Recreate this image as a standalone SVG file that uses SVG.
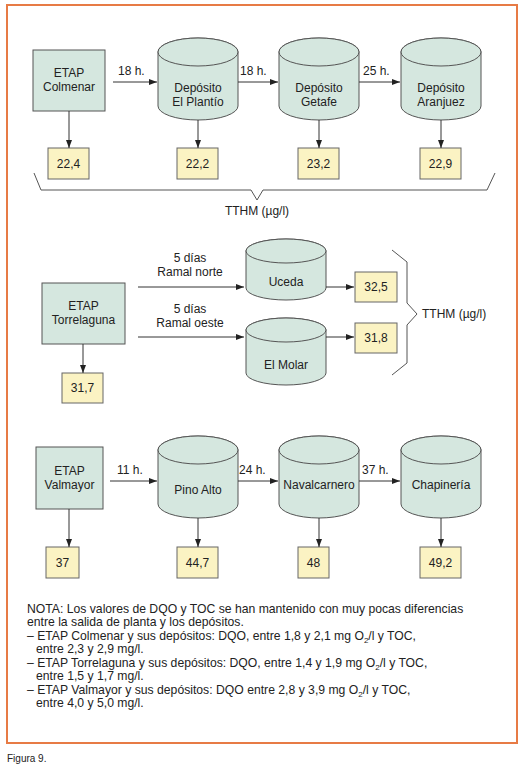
<svg xmlns="http://www.w3.org/2000/svg" width="532" height="768" viewBox="0 0 532 768">
<defs>
<style>
text{font-family:"Liberation Sans",Arial,sans-serif;fill:#222;}
.lbl{font-size:12px;text-anchor:middle;}
.val{font-size:12px;text-anchor:middle;}
.note{font-size:12.2px;}
.box{fill:#d5e7df;stroke:#555;stroke-width:1;}
.cyl{fill:#d5e7df;stroke:#555;stroke-width:1;}
.vbox{fill:#fbf3c3;stroke:#666;stroke-width:1;}
.conn{fill:none;stroke:#333;stroke-width:1;}
.brace{fill:none;stroke:#555;stroke-width:1;}
</style>
<marker id="ah" viewBox="0 0 8 6" refX="8" refY="3" markerWidth="8" markerHeight="6" markerUnits="userSpaceOnUse" orient="auto">
<path d="M0,0 L8,3 L0,6 Z" fill="#222"/>
</marker>
</defs>
<rect x="0" y="0" width="532" height="768" fill="#fff"/>
<rect x="7" y="5" width="510" height="738" fill="#fff" stroke="#e77b45" stroke-width="2"/>

<!-- Row 1 -->
<g id="etap-colmenar"><rect class="box" x="33" y="50" width="72" height="61"/><text class="lbl" x="69" y="77">ETAP</text><text class="lbl" x="69" y="91">Colmenar</text></g>
<g id="dep-plantio"><path class="cyl" d="M158,52 L158,106 A40,14 0 0 0 238,106 L238,52 A40,14 0 0 0 158,52 Z"/><ellipse class="cyl" cx="198" cy="52" rx="40" ry="14"/><text class="lbl" x="198" y="92">Depósito</text><text class="lbl" x="198" y="106">El Plantío</text></g>
<g id="dep-getafe"><path class="cyl" d="M279,52 L279,106 A40,14 0 0 0 359,106 L359,52 A40,14 0 0 0 279,52 Z"/><ellipse class="cyl" cx="319" cy="52" rx="40" ry="14"/><text class="lbl" x="319" y="92">Depósito</text><text class="lbl" x="319" y="106">Getafe</text></g>
<g id="dep-aranjuez"><path class="cyl" d="M401,52 L401,106 A40,14 0 0 0 481,106 L481,52 A40,14 0 0 0 401,52 Z"/><ellipse class="cyl" cx="441" cy="52" rx="40" ry="14"/><text class="lbl" x="441" y="92">Depósito</text><text class="lbl" x="441" y="106">Aranjuez</text></g>
<g id="v-224"><rect class="vbox" x="48" y="148" width="41" height="31"/><text class="val" x="68.5" y="168">22,4</text></g>
<g id="v-222"><rect class="vbox" x="177" y="148" width="41" height="31"/><text class="val" x="197.5" y="168">22,2</text></g>
<g id="v-232"><rect class="vbox" x="298" y="148" width="41" height="31"/><text class="val" x="318.5" y="168">23,2</text></g>
<g id="v-229"><rect class="vbox" x="420" y="148" width="41" height="31"/><text class="val" x="440.5" y="168">22,9</text></g>
<g id="tthm1"><path class="brace" d="M34,173 L41,190 L251,190 L257,200 L263,190 L487,190 L495,173"/><text class="lbl" x="257" y="215">TTHM (µg/l)</text></g>

<!-- Row 2 -->
<g id="etap-torrelaguna"><rect class="box" x="42" y="283" width="83" height="61"/><text class="lbl" x="83.5" y="310">ETAP</text><text class="lbl" x="83.5" y="324">Torrelaguna</text></g>
<g id="uceda"><path class="cyl" d="M246,251 L246,288 A40,12 0 0 0 326,288 L326,251 A40,12 0 0 0 246,251 Z"/><ellipse class="cyl" cx="286" cy="251" rx="40" ry="12"/><text class="lbl" x="286" y="286">Uceda</text></g>
<g id="el-molar"><path class="cyl" d="M246,330 L246,373 A40,12 0 0 0 326,373 L326,330 A40,12 0 0 0 246,330 Z"/><ellipse class="cyl" cx="286" cy="330" rx="40" ry="12"/><text class="lbl" x="286" y="369">El Molar</text></g>
<g id="v-325"><rect class="vbox" x="355" y="272" width="42" height="30"/><text class="val" x="376" y="291">32,5</text></g>
<g id="v-318"><rect class="vbox" x="355" y="323" width="42" height="30"/><text class="val" x="376" y="342">31,8</text></g>
<g id="v-317"><rect class="vbox" x="62" y="373" width="41" height="30"/><text class="val" x="82.5" y="392">31,7</text></g>
<g id="tthm2"><path class="brace" d="M392,250 L407,262 L407,303 L417,314 L407,325 L407,363 L392,375"/><text x="422" y="318" style="font-size:12px">TTHM (µg/l)</text></g>

<!-- Row 3 -->
<g id="etap-valmayor"><rect class="box" x="36" y="447" width="67" height="62"/><text class="lbl" x="69.5" y="475">ETAP</text><text class="lbl" x="69.5" y="489">Valmayor</text></g>
<g id="pino-alto"><path class="cyl" d="M158,450 L158,504 A40,14 0 0 0 238,504 L238,450 A40,14 0 0 0 158,450 Z"/><ellipse class="cyl" cx="198" cy="450" rx="40" ry="14"/><text class="lbl" x="198" y="494">Pino Alto</text></g>
<g id="navalcarnero"><path class="cyl" d="M279,450 L279,504 A40,14 0 0 0 359,504 L359,450 A40,14 0 0 0 279,450 Z"/><ellipse class="cyl" cx="319" cy="450" rx="40" ry="14"/><text class="lbl" x="319" y="489">Navalcarnero</text></g>
<g id="chapineria"><path class="cyl" d="M401,450 L401,504 A40,14 0 0 0 481,504 L481,450 A40,14 0 0 0 401,450 Z"/><ellipse class="cyl" cx="441" cy="450" rx="40" ry="14"/><text class="lbl" x="441" y="489">Chapinería</text></g>
<g id="v-37"><rect class="vbox" x="46" y="547" width="33" height="31"/><text class="val" x="62.5" y="567">37</text></g>
<g id="v-447"><rect class="vbox" x="177" y="547" width="41" height="31"/><text class="val" x="197.5" y="567">44,7</text></g>
<g id="v-48"><rect class="vbox" x="298" y="547" width="31" height="31"/><text class="val" x="313.5" y="567">48</text></g>
<g id="v-492"><rect class="vbox" x="420" y="547" width="41" height="31"/><text class="val" x="440.5" y="567">49,2</text></g>

<g id="connectors">
<path class="conn" marker-end="url(#ah)" d="M113,82 L157,82"/>
<path class="conn" marker-end="url(#ah)" d="M238,82 L278,82"/>
<path class="conn" marker-end="url(#ah)" d="M359,82 L400,82"/>
<path class="conn" marker-end="url(#ah)" d="M69,111 L69,148"/>
<path class="conn" marker-end="url(#ah)" d="M198,120 L198,148"/>
<path class="conn" marker-end="url(#ah)" d="M319,120 L319,148"/>
<path class="conn" marker-end="url(#ah)" d="M441,120 L441,148"/>
<path class="conn" marker-end="url(#ah)" d="M138,287 L244,287"/>
<path class="conn" marker-end="url(#ah)" d="M138,337 L244,337"/>
<path class="conn" marker-end="url(#ah)" d="M326,287 L354,287"/>
<path class="conn" marker-end="url(#ah)" d="M326,337 L354,337"/>
<path class="conn" marker-end="url(#ah)" d="M83,344 L83,373"/>
<path class="conn" marker-end="url(#ah)" d="M110,481 L157,481"/>
<path class="conn" marker-end="url(#ah)" d="M238,481 L278,481"/>
<path class="conn" marker-end="url(#ah)" d="M359,481 L400,481"/>
<path class="conn" marker-end="url(#ah)" d="M69,509 L69,547"/>
<path class="conn" marker-end="url(#ah)" d="M198,518 L198,547"/>
<path class="conn" marker-end="url(#ah)" d="M319,518 L319,547"/>
<path class="conn" marker-end="url(#ah)" d="M441,518 L441,547"/>
<text x="118" y="75" style="font-size:12px">18 h.</text>
<text x="240" y="75" style="font-size:12px">18 h.</text>
<text x="363" y="75" style="font-size:12px">25 h.</text>
<text class="lbl" x="190" y="262">5 días</text>
<text class="lbl" x="190" y="276">Ramal norte</text>
<text class="lbl" x="190" y="313">5 días</text>
<text class="lbl" x="190" y="327">Ramal oeste</text>
<text x="117" y="474" style="font-size:12px">11 h.</text>
<text x="239" y="474" style="font-size:12px">24 h.</text>
<text x="362" y="474" style="font-size:12px">37 h.</text>
</g>

<g id="nota">
<text class="note" x="27" y="613">NOTA: Los valores de DQO y TOC se han mantenido con muy pocas diferencias</text>
<text class="note" x="27" y="626">entre la salida de planta y los depósitos.</text>
<text class="note" x="27" y="640">– ETAP Colmenar y sus depósitos: DQO, entre 1,8 y 2,1 mg O<tspan dy="3" font-size="8">2</tspan><tspan dy="-3">/l y TOC,</tspan></text>
<text class="note" x="36" y="653">entre 2,3 y 2,9 mg/l.</text>
<text class="note" x="27" y="667">– ETAP Torrelaguna y sus depósitos: DQO, entre 1,4 y 1,9 mg O<tspan dy="3" font-size="8">2</tspan><tspan dy="-3">/l y TOC,</tspan></text>
<text class="note" x="36" y="680">entre 1,5 y 1,7 mg/l.</text>
<text class="note" x="27" y="694">– ETAP Valmayor y sus depósitos: DQO entre 2,8 y 3,9 mg O<tspan dy="3" font-size="8">2</tspan><tspan dy="-3">/l y TOC,</tspan></text>
<text class="note" x="36" y="707">entre 4,0 y 5,0 mg/l.</text>
</g>
<text x="7" y="762" style="font-size:10px">Figura 9.</text>
</svg>
